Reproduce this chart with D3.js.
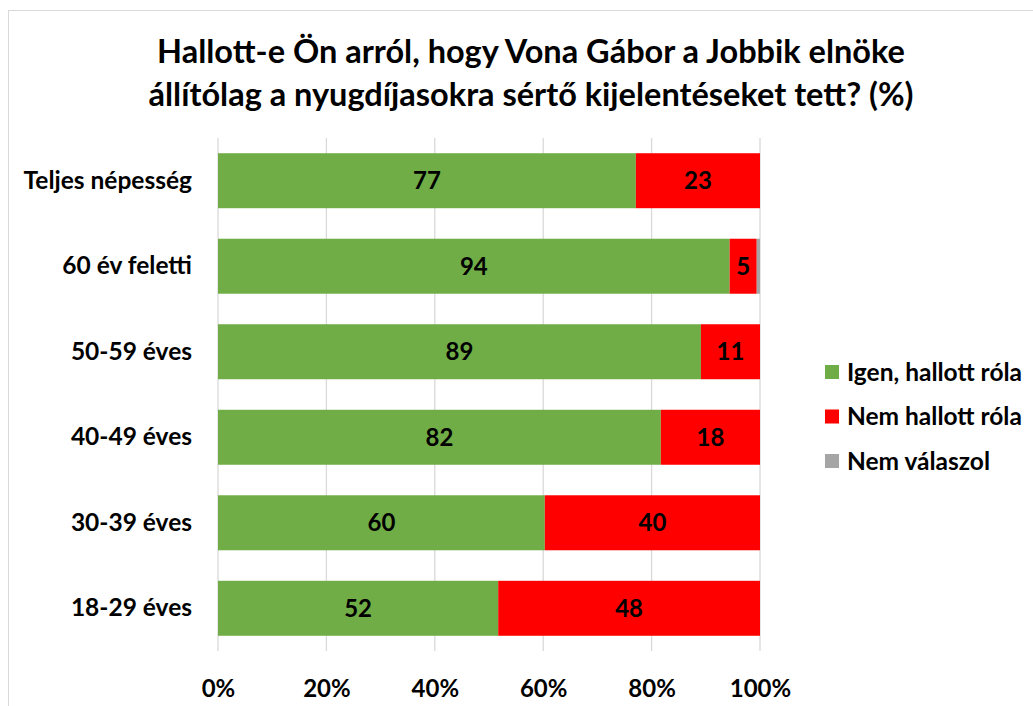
<!DOCTYPE html>
<html>
<head>
<meta charset="utf-8">
<script src="https://cdn.jsdelivr.net/npm/d3@7"></script>
<style>
  body { margin: 0; background: #fff; }
  text { font-family: Lato, Carlito, "Noto Sans", sans-serif; font-weight: bold; fill: #000; }
</style>
</head>
<body>
<div id="chart"></div>
<script>
// Chart size
const width = 1033;
const height = 706;
const margin = {left: 218, right: 273, top: 138, bottom: 55};

// Data
const categories = ["Teljes népesség", "60 év feletti", "50-59 éves", "40-49 éves", "30-39 éves", "18-29 éves"];
const igen = [77.1, 94.4, 89.1, 81.7, 60.3, 51.7];
const nem = [22.9, 5.0, 10.9, 18.3, 39.7, 48.3];
const nemValaszol = [0, 0.6, 0, 0, 0, 0];
const seriesNames = ["Igen, hallott róla", "Nem hallott róla", "Nem válaszol"];
const colors = ["#70ad47", "#ff0000", "#a5a5a5"];
const xTicks = [0, 20, 40, 60, 80, 100];
const titleLines = ["Hallott-e Ön arról, hogy Vona Gábor a Jobbik elnöke",
                    "állítólag a nyugdíjasokra sértő kijelentéseket tett? (%)"];

const rows = categories.map((c, i) => ({cat: c, igen: igen[i], nem: nem[i], nv: nemValaszol[i]}));
const keys = ["igen", "nem", "nv"];
const stacked = d3.stack().keys(keys)(rows);

const svg = d3.select("#chart")
  .append("svg")
  .attr("width", width)
  .attr("height", height);

// outer frame
svg.append("rect")
  .attr("x", 8.5).attr("y", 10.5)
  .attr("width", 1040).attr("height", 720)
  .attr("fill", "none")
  .attr("stroke", "#d9d9d9");

// Title
svg.append("g").selectAll("text")
  .data(titleLines)
  .enter().append("text")
    .attr("x", 531)
    .attr("y", (d, i) => 63 + i * 43)
    .attr("text-anchor", "middle")
    .attr("font-size", "32.5px")
    .text(d => d);

// Scales
const xScale = d3.scaleLinear()
  .domain([0, 100])
  .range([margin.left, width - margin.right]);

const yScale = d3.scaleBand()
  .domain(categories)
  .range([margin.top, height - margin.bottom])
  .paddingInner(0.357)
  .paddingOuter(0.178);

// Gridlines
svg.append("g")
  .selectAll("line")
  .data(xTicks)
  .enter().append("line")
    .attr("x1", d => xScale(d)).attr("x2", d => xScale(d))
    .attr("y1", margin.top).attr("y2", height - margin.bottom)
    .attr("stroke", "#d9d9d9")
    .attr("stroke-width", 1.3);

// x axis labels
svg.append("g")
  .attr("transform", `translate(0, ${height - 9})`)
  .call(d3.axisBottom(xScale).tickValues(xTicks).tickFormat(d => d + "%").tickSize(0))
  .call(g => g.select(".domain").remove())
  .call(g => g.selectAll("text").attr("font-size", "24px").attr("dy", 0).attr("y", 0));

// y axis labels
svg.append("g")
  .attr("transform", `translate(${margin.left - 26}, 0)`)
  .call(d3.axisLeft(yScale).tickSize(0))
  .call(g => g.select(".domain").remove())
  .call(g => g.selectAll("text").attr("font-size", "24.5px").attr("x", 0));

// Bars
const layers = svg.append("g")
  .selectAll("g")
  .data(stacked)
  .enter().append("g")
    .attr("fill", (d, i) => colors[i]);

layers.selectAll("rect")
  .data(d => d)
  .enter().append("rect")
    .attr("x", d => xScale(d[0]))
    .attr("y", d => yScale(d.data.cat))
    .attr("width", d => xScale(d[1]) - xScale(d[0]))
    .attr("height", yScale.bandwidth());

// Data labels (first two series)
layers.filter((d, i) => i < 2)
  .selectAll("text")
  .data(d => d)
  .enter().append("text")
    .attr("x", d => (xScale(d[0]) + xScale(d[1])) / 2)
    .attr("y", d => yScale(d.data.cat) + yScale.bandwidth() / 2)
    .attr("dy", "0.36em")
    .attr("text-anchor", "middle")
    .attr("font-size", "24px")
    .text(d => d3.format(".0f")(d[1] - d[0]));

// Legend
const legend = svg.append("g")
  .selectAll("g")
  .data(seriesNames)
  .enter().append("g")
    .attr("transform", (d, i) => `translate(825, ${372 + i * 44.5})`);

legend.append("rect")
  .attr("x", 0).attr("y", -7)
  .attr("width", 14).attr("height", 14)
  .attr("fill", (d, i) => colors[i]);

legend.append("text")
  .attr("x", 22)
  .attr("dy", "0.36em")
  .attr("font-size", "24.5px")
  .text(d => d);
</script>
</body>
</html>
